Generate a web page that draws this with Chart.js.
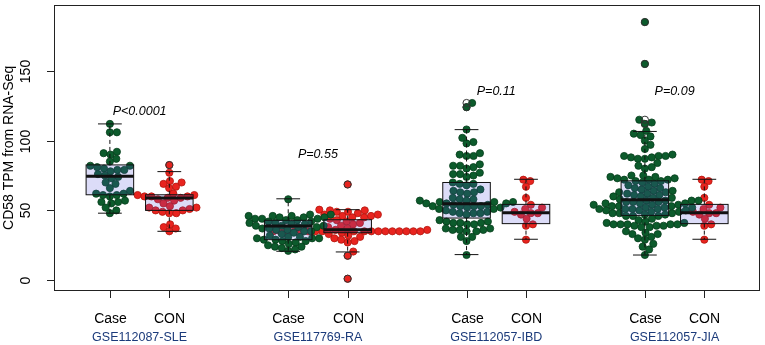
<!doctype html>
<html lang="en">
<head>
<meta charset="utf-8">
<title>CD58 TPM from RNA-Seq</title>
<script src="https://cdn.jsdelivr.net/npm/chart.js"></script>
<style>
  html, body { margin: 0; padding: 0; background: #fff; }
</style>
</head>
<body>
<canvas id="chart" width="765" height="345"></canvas>
<script>
// x positions of the eight boxes (as in R boxplot at=)
var positions = [1, 2, 4, 5, 7, 8, 10, 11];
var subLabels = ['Case', 'CON', 'Case', 'CON', 'Case', 'CON', 'Case', 'CON'];
var groupNames = ['GSE112087-SLE', 'GSE117769-RA', 'GSE112057-IBD', 'GSE112057-JIA'];
var groupCenters = [1.5, 4.5, 7.5, 10.5];
var pLabels = ['P<0.0001', 'P=0.55', 'P=0.11', 'P=0.09'];
var pHeights = [121, 90, 135, 135];
var yTicks = [0, 50, 100, 150];

// CD58 TPM values, one array per box
var sleCase = [112, 106, 106, 92, 91, 90, 87, 85, 82, 82, 81, 80, 79, 79, 78, 76, 75, 74, 73, 70,
  69, 66, 64, 62, 62, 61, 61, 60, 57, 56, 56, 55, 52, 50, 48];
var sleCon = [82.5, 77, 71, 70, 69, 67, 66, 62, 61, 61, 60, 60, 60, 59, 59, 58, 57, 55, 53, 52,
  52, 51, 50, 50, 49, 48, 48, 40, 38, 37, 35];
var raCase = [58, 47, 47, 46, 46, 46, 45, 45, 45, 44, 44, 44, 43, 43, 42, 42, 41, 41, 40, 40,
  39, 39, 39, 38, 38, 37, 37, 36, 36, 35, 35, 34, 33, 32, 31, 31, 30, 30, 30, 29,
  29, 28, 28, 27, 26, 25, 24, 24, 23, 22, 21];
var raCon = [68.6, 50.5, 50, 50, 49, 49, 48, 47, 47, 46, 46, 45, 45, 44, 43, 42, 41, 40, 39, 38,
  37, 36, 36, 35, 35, 35, 35, 35, 35, 35, 35, 35, 35, 35, 35, 35, 35, 35, 35, 35,
  35, 34, 33, 32, 31, 30, 29, 28, 27, 20.5, 17.5, 1];
var ibdCase = [127, 124, 108, 102, 99, 98, 91, 90, 89, 89, 83, 82, 82, 81, 80, 77, 76, 76, 75, 74,
  70, 69, 69, 68, 65, 64, 63, 63, 62, 59, 58, 58, 57, 57, 56, 56, 56, 55, 55, 55,
  54, 54, 53, 53, 53, 53, 52, 52, 51, 51, 50, 49, 49, 48, 48, 48, 47, 43, 42, 42,
  41, 41, 41, 40, 40, 37, 37, 36, 36, 36, 35, 35, 31, 31, 28, 18];
var ibdCon = [72, 71, 67, 59, 54, 52, 51, 49, 48, 48, 47, 44, 40, 39, 29];
var jiaCase = [185, 155, 115, 113, 112, 107, 105, 104, 103, 100, 97, 94, 90, 89, 89, 89, 88, 88, 87, 87,
  84, 82, 81, 80, 75, 75, 74, 74, 73, 73, 72, 72, 72, 71, 71, 70, 69, 68, 67, 66,
  66, 65, 64, 64, 63, 63, 62, 62, 61, 61, 60, 60, 59, 59, 58, 57, 57, 57, 57, 56,
  56, 56, 55, 55, 55, 54, 54, 54, 53, 53, 53, 52, 52, 52, 51, 51, 51, 51, 50, 50,
  50, 49, 49, 48, 48, 48, 47, 47, 46, 46, 46, 44, 43, 42, 41, 41, 40, 40, 40, 40,
  40, 39, 39, 39, 38, 38, 35, 34, 33, 33, 31, 30, 29, 26, 24, 22, 18];
var jiaCon = [72, 71, 67, 59, 54, 52, 51, 49, 48, 48, 47, 44, 40, 39, 29];

// box statistics
var boxLow  = [48, 35, 20.7, 20.2, 18.3, 29.3, 18, 29.3];
var boxQ1   = [61.2, 50, 29, 34, 44.5, 40.5, 46.4, 40.5];
var boxMed  = [74.5, 58.8, 38.8, 36.2, 54.8, 48.3, 57.6, 48.3];
var boxQ3   = [82.6, 61.2, 42.9, 43.3, 70, 54.3, 71.2, 54.3];
var boxHigh = [112, 77.8, 58.3, 50.5, 107.9, 72.3, 106.6, 72.3];
var outliers = [[], [82.5], [], [68.6, 17.5, 1], [127, 124], [], [185, 155, 115, 112], []];

var seriesValues = [sleCase, sleCon, raCase, raCon, ibdCase, ibdCon, jiaCase, jiaCon];
var green = '#0c5b2c', greenEdge = '#063d1c';
var red = '#e8241f', redEdge = '#b3170f';
var FONT = '"Liberation Sans", Arial, Helvetica, sans-serif';

var datasets = seriesValues.map(function (vals, i) {
  var isCase = i % 2 === 0;
  return {
    label: subLabels[i],
    data: vals.map(function (v) { return { x: positions[i], y: v }; }),
    pointRadius: 3.6,
    pointBorderWidth: 0.8,
    backgroundColor: isCase ? green : red,
    borderColor: isCase ? greenEdge : redEdge
  };
});

// beeswarm: pixel offsets so that points of a box do not overlap
function swarm(values, yScale, diam) {
  var order = values.map(function (v, i) { return i; });
  order.sort(function (a, b) { return values[a] - values[b]; });
  var placed = [];
  var offs = new Array(values.length);
  order.forEach(function (i) {
    var py = yScale.getPixelForValue(values[i]);
    var cands = [0];
    placed.forEach(function (p) {
      var dy = Math.abs(p.y - py);
      if (dy < diam) {
        var dx = Math.sqrt(diam * diam - dy * dy);
        cands.push(p.x + dx, p.x - dx);
      }
    });
    cands.sort(function (a, b) { return Math.abs(a) - Math.abs(b); });
    var best = 0;
    for (var c = 0; c < cands.length; c++) {
      var ok = placed.every(function (p) {
        var ddx = p.x - cands[c], ddy = p.y - py;
        return ddx * ddx + ddy * ddy >= diam * diam - 0.01;
      });
      if (ok) { best = cands[c]; break; }
    }
    placed.push({ x: best, y: py });
    offs[i] = best;
  });
  return offs;
}

var boxPlugin = {
  id: 'boxes',
  afterDatasetsDraw: function (chart) {
    var ctx = chart.ctx, xs = chart.scales.x, ys = chart.scales.y;
    var unit = xs.getPixelForValue(1) - xs.getPixelForValue(0);
    ctx.save();
    for (var i = 0; i < positions.length; i++) {
      var cx = xs.getPixelForValue(positions[i]);
      var hw = 0.4 * unit, sw = 0.2 * unit;
      var yq1 = ys.getPixelForValue(boxQ1[i]), yq3 = ys.getPixelForValue(boxQ3[i]);
      var ymed = ys.getPixelForValue(boxMed[i]);
      var ylo = ys.getPixelForValue(boxLow[i]), yhi = ys.getPixelForValue(boxHigh[i]);
      // whiskers
      ctx.strokeStyle = '#111';
      ctx.lineWidth = 1;
      ctx.setLineDash([4, 3]);
      ctx.beginPath();
      ctx.moveTo(cx, yq3); ctx.lineTo(cx, yhi);
      ctx.moveTo(cx, yq1); ctx.lineTo(cx, ylo);
      ctx.stroke();
      ctx.setLineDash([]);
      ctx.beginPath();
      ctx.moveTo(cx - sw, yhi); ctx.lineTo(cx + sw, yhi);
      ctx.moveTo(cx - sw, ylo); ctx.lineTo(cx + sw, ylo);
      ctx.stroke();
      // box
      ctx.fillStyle = 'rgba(80,80,220,0.2)';
      ctx.fillRect(cx - hw, yq3, 2 * hw, yq1 - yq3);
      ctx.strokeRect(cx - hw, yq3, 2 * hw, yq1 - yq3);
      ctx.lineWidth = 3;
      ctx.beginPath();
      ctx.moveTo(cx - hw, ymed); ctx.lineTo(cx + hw, ymed);
      ctx.stroke();
      // outliers
      ctx.lineWidth = 1;
      ctx.strokeStyle = '#333';
      outliers[i].forEach(function (v) {
        ctx.beginPath();
        ctx.arc(cx, ys.getPixelForValue(v), 3.6, 0, Math.PI * 2);
        ctx.stroke();
      });
    }
    ctx.restore();
  },
  afterDraw: function (chart) {
    var ctx = chart.ctx, xs = chart.scales.x, ys = chart.scales.y, a = chart.chartArea;
    ctx.save();
    ctx.strokeStyle = '#222';
    ctx.lineWidth = 1;
    ctx.strokeRect(Math.round(a.left) + 0.5, Math.round(a.top) + 0.5,
      Math.round(a.right - a.left) - 1, Math.round(a.bottom - a.top) - 1);
    ctx.fillStyle = '#000';
    // y axis ticks and rotated labels
    ctx.font = '14px ' + FONT;
    ctx.textAlign = 'center';
    ctx.textBaseline = 'alphabetic';
    yTicks.forEach(function (t) {
      var py = Math.round(ys.getPixelForValue(t)) + 0.5;
      ctx.beginPath();
      ctx.moveTo(a.left, py); ctx.lineTo(a.left - 7, py);
      ctx.stroke();
      ctx.save();
      ctx.translate(30, py);
      ctx.rotate(-Math.PI / 2);
      ctx.fillText(String(t), 0, 0);
      ctx.restore();
    });
    ctx.save();
    ctx.translate(12.5, (a.top + a.bottom) / 2);
    ctx.rotate(-Math.PI / 2);
    ctx.fillText('CD58 TPM from RNA-Seq', 0, 0);
    ctx.restore();
    // x axis ticks and labels
    positions.forEach(function (p, i) {
      var px = Math.round(xs.getPixelForValue(p)) + 0.5;
      ctx.beginPath();
      ctx.moveTo(px, a.bottom); ctx.lineTo(px, a.bottom + 7);
      ctx.stroke();
      ctx.font = '14px ' + FONT;
      ctx.fillStyle = '#000';
      ctx.fillText(subLabels[i], px, 323);
    });
    ctx.font = '12.5px ' + FONT;
    ctx.fillStyle = '#1b3a7a';
    groupNames.forEach(function (g, i) {
      ctx.fillText(g, xs.getPixelForValue(groupCenters[i]), 341);
    });
    // p-values
    ctx.font = 'italic 12.5px ' + FONT;
    ctx.fillStyle = '#000';
    ctx.textBaseline = 'middle';
    pLabels.forEach(function (t, i) {
      ctx.fillText(t, xs.getPixelForValue(groupCenters[i]), ys.getPixelForValue(pHeights[i]));
    });
    ctx.restore();
  }
};

var chart = new Chart(document.getElementById('chart'), {
  type: 'scatter',
  data: { datasets: datasets },
  options: {
    responsive: false,
    animation: false,
    devicePixelRatio: 1,
    layout: { padding: { left: 54, right: 2, top: 3, bottom: 54 } },
    scales: {
      x: { type: 'linear', min: 0.06, max: 11.94, display: false },
      y: { type: 'linear', min: -7.8, max: 197.4, display: false }
    },
    plugins: { legend: { display: false }, tooltip: { enabled: false } }
  },
  plugins: [boxPlugin]
});

// spread the points into a beeswarm using the chart's own scales
var xs = chart.scales.x, ys = chart.scales.y;
var unit = xs.getPixelForValue(1) - xs.getPixelForValue(0);
chart.data.datasets.forEach(function (ds, i) {
  var offs = swarm(seriesValues[i], ys, 7);
  ds.data = seriesValues[i].map(function (v, k) {
    return { x: positions[i] + offs[k] / unit, y: v };
  });
});
chart.update('none');
</script>
</body>
</html>
